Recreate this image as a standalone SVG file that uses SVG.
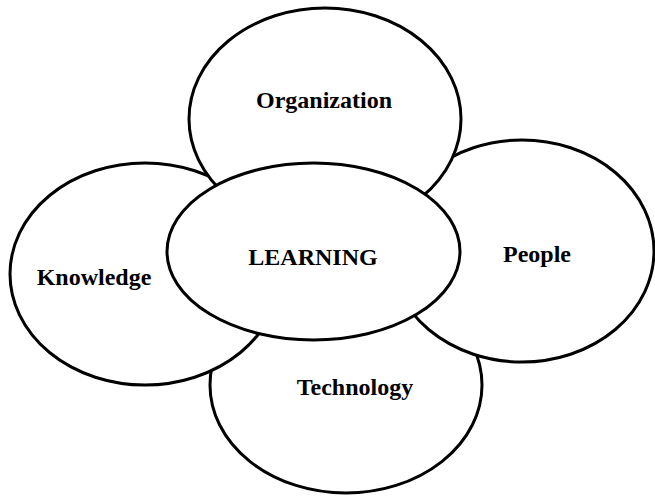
<svg xmlns="http://www.w3.org/2000/svg" width="655" height="496" viewBox="0 0 655 496">
<style>
.n{fill:#fff;stroke:#000;stroke-width:3}
.t{font-family:"Liberation Serif","Times New Roman",serif;font-weight:bold;font-size:24px;fill:#000;text-anchor:middle}
</style>
<rect width="655" height="496" fill="#fff"/>
<g id="connectors"></g>
<g id="technology"><ellipse class="n" cx="346" cy="385" rx="136" ry="108"/><text class="t" x="355" y="395" font-size="23">Technology</text></g>
<g id="knowledge"><ellipse class="n" cx="145" cy="274" rx="135" ry="111"/><text class="t" x="94" y="285">Knowledge</text></g>
<g id="people"><ellipse class="n" cx="522" cy="251" rx="132" ry="111"/><text class="t" x="537" y="262">People</text></g>
<g id="organization"><ellipse class="n" cx="325" cy="119" rx="136" ry="111"/><text class="t" x="324" y="108">Organization</text></g>
<g id="learning"><ellipse class="n" cx="313.5" cy="251.5" rx="146.5" ry="88.5"/><text class="t" x="313" y="265">LEARNING</text></g>
</svg>
